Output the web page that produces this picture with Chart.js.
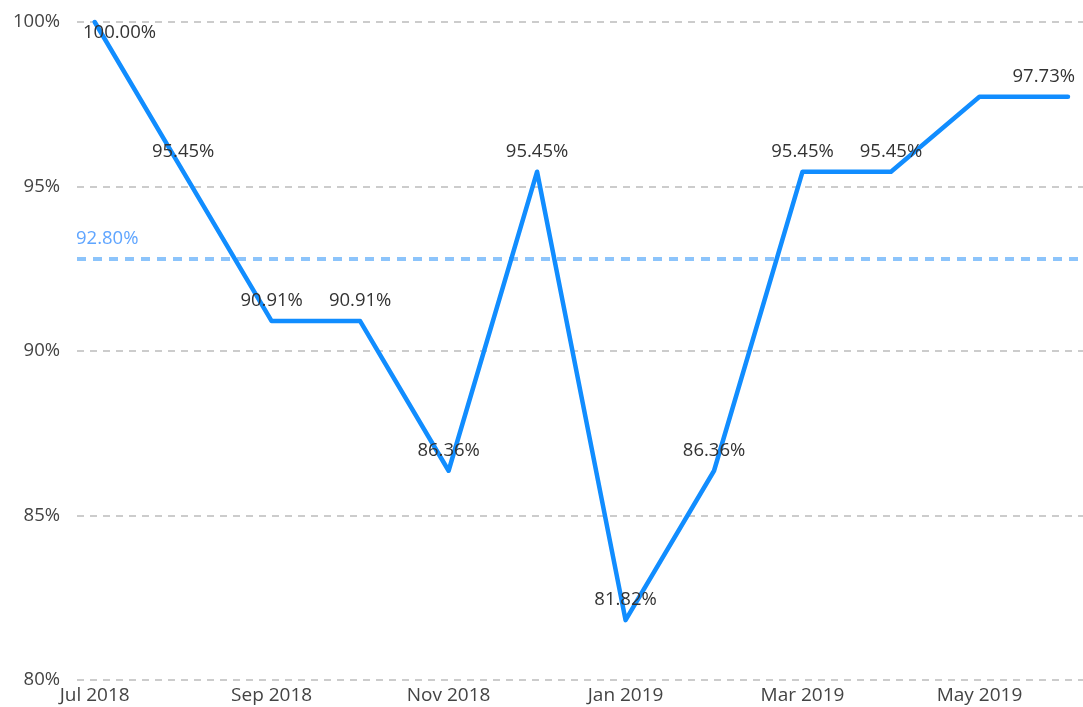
<!DOCTYPE html>
<html>
<head>
<meta charset="utf-8">
<script src="https://cdn.jsdelivr.net/npm/chart.js@4"></script>
<style>
  html, body { margin: 0; padding: 0; background: #fff; }
  #wrap { width: 1083px; height: 707px; }
</style>
</head>
<body>
<div id="wrap"><canvas id="grafico"></canvas></div>
<script>
// dados
const meses = ["Jul 2018", "Aug 2018", "Sep 2018", "Oct 2018", "Nov 2018", "Dec 2018",
               "Jan 2019", "Feb 2019", "Mar 2019", "Apr 2019", "May 2019", "Jun 2019"];
const valores = [100.00, 95.45, 90.91, 90.91, 86.36, 95.45, 81.82, 86.36, 95.45, 95.45, 97.73, 97.73];
const media = 92.80;
const ticksY = [80, 85, 90, 95, 100];

const fonte = '"Segoe UI", "Open Sans", sans-serif';

// rótulos dos pontos + linha da média
const rotulos = {
  id: 'rotulos',
  beforeDatasetsDraw(chart) {
    const { ctx, chartArea, scales } = chart;
    const y = scales.y.getPixelForValue(media);
    ctx.save();
    ctx.strokeStyle = '#8cc4fb';
    ctx.lineWidth = 4;
    ctx.setLineDash([9, 7]);
    ctx.beginPath();
    ctx.moveTo(chartArea.left, y);
    ctx.lineTo(chartArea.right, y);
    ctx.stroke();
    ctx.setLineDash([]);
    ctx.font = '18.5px ' + fonte;
    ctx.fillStyle = '#5fa5ff';
    ctx.textAlign = 'left';
    ctx.textBaseline = 'bottom';
    ctx.fillText(media.toFixed(2) + '%', chartArea.left - 1, y - 11);
    ctx.restore();
  },
  afterDatasetsDraw(chart) {
    const { ctx, chartArea } = chart;
    const meta = chart.getDatasetMeta(0);
    ctx.save();
    ctx.font = '18.5px ' + fonte;
    ctx.fillStyle = '#333';
    ctx.textAlign = 'center';
    ctx.textBaseline = 'middle';
    // calcula caixas, da direita pra esquerda, e esconde os que se sobrepõem
    const caixas = [];
    for (let i = meta.data.length - 1; i >= 0; i--) {
      const p = meta.data[i];
      const txt = valores[i].toFixed(2) + '%';
      const w = ctx.measureText(txt).width;
      let x = p.x;
      let y = p.y - 20;
      if (x - w / 2 < chartArea.left + 6) x = chartArea.left + 6 + w / 2;
      if (x + w / 2 > chartArea.right - 8) x = chartArea.right - 8 - w / 2;
      if (y < chartArea.top + 11) y = chartArea.top + 11;
      const bate = caixas.some(c => Math.abs(c.x - x) < (c.w + w) / 2 + 6 && Math.abs(c.y - y) < 20);
      if (bate) continue;
      caixas.push({ x, y, w });
      ctx.fillText(txt, x, y);
    }
    ctx.restore();
  }
};

new Chart(document.getElementById('grafico'), {
  type: 'line',
  data: {
    datasets: [{
      data: valores.map((v, i) => ({ x: i, y: v })),
      borderColor: '#118DFF',
      borderWidth: 4.5,
      borderJoinStyle: 'round',
      borderCapStyle: 'round',
      pointRadius: 0,
      tension: 0,
      clip: false
    }]
  },
  options: {
    responsive: true,
    maintainAspectRatio: false,
    animation: false,
    layout: { padding: { top: 22, right: 0, left: 0, bottom: 0 } },
    plugins: {
      legend: { display: false },
      tooltip: { enabled: false }
    },
    scales: {
      x: {
        type: 'linear',
        min: -0.2,
        max: 11.17,
        afterBuildTicks: s => { s.ticks = meses.map((m, i) => ({ value: i })).filter(t => t.value % 2 === 0); },
        afterFit: s => { s.height = 27; s.paddingLeft = 0; s.paddingRight = 0; },
        grid: { display: false, drawTicks: false },
        border: { display: false },
        ticks: {
          callback: v => meses[v],
          color: '#444',
          padding: 4,
          maxRotation: 0,
          autoSkip: false,
          font: { family: fonte, size: 19 }
        }
      },
      y: {
        min: 80,
        max: 100,
        afterBuildTicks: s => { s.ticks = ticksY.map(v => ({ value: v })); },
        afterFit: s => { s.width = 77; s.paddingTop = 0; s.paddingBottom = 0; },
        grid: { color: '#cccccc', lineWidth: 2, drawTicks: false },
        border: { display: false, dash: [7, 6] },
        ticks: {
          callback: v => v + '%',
          color: '#444',
          padding: 17,
          font: { family: fonte, size: 18.5 }
        }
      }
    }
  },
  plugins: [rotulos]
});
</script>
</body>
</html>
